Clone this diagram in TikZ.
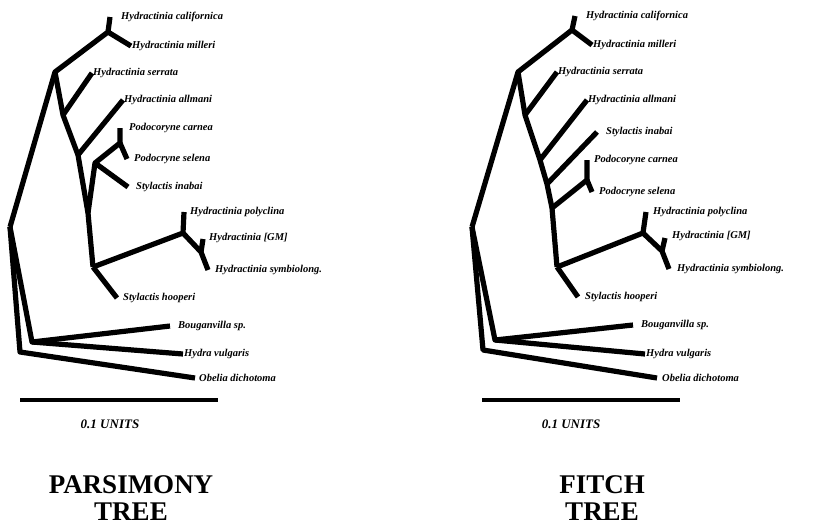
\documentclass[tikz,border=0pt]{standalone}
\usepackage{fontspec}
\setmainfont{Liberation Serif}
\usetikzlibrary{positioning}

\tikzset{
    branch/.style={line width=5.2pt, line join=round},
    taxon/.style={anchor=west, inner sep=1pt, font=\bfseries\itshape\fontsize{10.5}{12}\selectfont},
    units/.style={font=\bfseries\itshape\fontsize{13}{14}\selectfont},
    title/.style={font=\bfseries\fontsize{27}{29}\selectfont, align=center}
}

\begin{document}
\begin{tikzpicture}[x=1pt, y=-1pt]
    \useasboundingbox (0,0) rectangle (821,525);

    % ---------- Parsimony tree ----------
    % Define the branching points
    \coordinate (pA) at (10,227);
    \coordinate (pB) at (55,72);
    \coordinate (pC) at (108,32);
    \coordinate (pD) at (63,115);
    \coordinate (pE) at (78,155);
    \coordinate (pF) at (88,213);
    \coordinate (pH) at (95,163);
    \coordinate (pI) at (120,143);
    \coordinate (pG) at (93,267);
    \coordinate (pJ) at (183,233);
    \coordinate (pM) at (201,252);
    \coordinate (pK) at (32,342);
    \coordinate (pL) at (20,352);

    % Define the tips
    \coordinate (pCal) at (110,17);
    \coordinate (pMil) at (131,46);
    \coordinate (pSer) at (92,73);
    \coordinate (pAll) at (123,100);
    \coordinate (pCar) at (120,128);
    \coordinate (pSel) at (127,159);
    \coordinate (pIna) at (128,187);
    \coordinate (pPol) at (184,212);
    \coordinate (pGM) at (203,239);
    \coordinate (pSym) at (208,270);
    \coordinate (pHoo) at (117,298);
    \coordinate (pBou) at (170,326);
    \coordinate (pHyd) at (183,354);
    \coordinate (pObe) at (195,378);

    % Draw the branches
    \draw[branch] (pA) -- (pB) -- (pC) -- (pCal);
    \draw[branch] (pC) -- (pMil);
    \draw[branch] (pB) -- (pD) -- (pE) -- (pF) -- (pG);
    \draw[branch] (pD) -- (pSer);
    \draw[branch] (pE) -- (pAll);
    \draw[branch] (pF) -- (pH) -- (pI) -- (pCar);
    \draw[branch] (pI) -- (pSel);
    \draw[branch] (pH) -- (pIna);
    \draw[branch] (pG) -- (pJ) -- (pPol);
    \draw[branch] (pJ) -- (pM) -- (pSym);
    \draw[branch] (pM) -- (pGM);
    \draw[branch] (pG) -- (pHoo);
    \draw[branch] (pA) -- (pK) -- (pBou);
    \draw[branch] (pK) -- (pHyd);
    \draw[branch] (pA) -- (pL) -- (pObe);

    % Label the tips
    \node[taxon] (pCalT) at ([xshift=10pt]pCal) {Hydractinia californica};
    \node[taxon] (pMilT) at (pMil) {Hydractinia milleri};
    \node[taxon] (pSerT) at (pSer) {Hydractinia serrata};
    \node[taxon] (pAllT) at (pAll) {Hydractinia allmani};
    \node[taxon] (pCarT) at ([xshift=8pt]pCar) {Podocoryne carnea};
    \node[taxon] (pSelT) at ([xshift=6pt]pSel) {Podocryne selena};
    \node[taxon] (pInaT) at ([xshift=7pt]pIna) {Stylactis inabai};
    \node[taxon] (pPolT) at ([xshift=5pt]pPol) {Hydractinia polyclina};
    \node[taxon] (pGMT) at ([xshift=5pt,yshift=1pt]pGM) {Hydractinia [GM]};
    \node[taxon] (pSymT) at ([xshift=6pt]pSym) {Hydractinia symbiolong.};
    \node[taxon] (pHooT) at ([xshift=5pt]pHoo) {Stylactis hooperi};
    \node[taxon] (pBouT) at ([xshift=7pt]pBou) {Bouganvilla sp.};
    \node[taxon] (pHydT) at (pHyd) {Hydra vulgaris};
    \node[taxon] (pObeT) at ([xshift=3pt]pObe) {Obelia dichotoma};

    % Scale bar and title
    \coordinate (pS1) at (20,400);
    \coordinate (pS2) at (218,400);
    \draw[line width=4.5pt] (pS1) -- (pS2);
    \node[units] (pUnits) at (110,424) {0.1 UNITS};
    \node[title] (pTitle) at (131,498) {PARSIMONY\\[-2pt]TREE};

    % ---------- Fitch tree ----------
    % Define the branching points
    \coordinate (fA) at (472,227);
    \coordinate (fB) at (518,72);
    \coordinate (fC) at (572,30);
    \coordinate (fD) at (525,115);
    \coordinate (fE) at (540,160);
    \coordinate (fF) at (547,184);
    \coordinate (fF2) at (552,208);
    \coordinate (fH) at (587,180);
    \coordinate (fG) at (557,267);
    \coordinate (fJ) at (643,233);
    \coordinate (fM) at (662,251);
    \coordinate (fK) at (495,340);
    \coordinate (fL) at (483,350);

    % Define the tips
    \coordinate (fCal) at (575,16);
    \coordinate (fMil) at (592,45);
    \coordinate (fSer) at (557,72);
    \coordinate (fAll) at (587,100);
    \coordinate (fIna) at (597,132);
    \coordinate (fCar) at (587,160);
    \coordinate (fSel) at (592,192);
    \coordinate (fPol) at (646,212);
    \coordinate (fGM) at (665,238);
    \coordinate (fSym) at (669,269);
    \coordinate (fHoo) at (578,297);
    \coordinate (fBou) at (633,325);
    \coordinate (fHyd) at (645,354);
    \coordinate (fObe) at (657,378);

    % Draw the branches
    \draw[branch] (fA) -- (fB) -- (fC) -- (fCal);
    \draw[branch] (fC) -- (fMil);
    \draw[branch] (fB) -- (fD) -- (fE) -- (fF) -- (fF2) -- (fG);
    \draw[branch] (fD) -- (fSer);
    \draw[branch] (fE) -- (fAll);
    \draw[branch] (fF) -- (fIna);
    \draw[branch] (fF2) -- (fH) -- (fCar);
    \draw[branch] (fH) -- (fSel);
    \draw[branch] (fG) -- (fJ) -- (fPol);
    \draw[branch] (fJ) -- (fM) -- (fSym);
    \draw[branch] (fM) -- (fGM);
    \draw[branch] (fG) -- (fHoo);
    \draw[branch] (fA) -- (fK) -- (fBou);
    \draw[branch] (fK) -- (fHyd);
    \draw[branch] (fA) -- (fL) -- (fObe);

    % Label the tips
    \node[taxon] (fCalT) at ([xshift=10pt]fCal) {Hydractinia californica};
    \node[taxon] (fMilT) at (fMil) {Hydractinia milleri};
    \node[taxon] (fSerT) at (fSer) {Hydractinia serrata};
    \node[taxon] (fAllT) at (fAll) {Hydractinia allmani};
    \node[taxon] (fInaT) at ([xshift=8pt]fIna) {Stylactis inabai};
    \node[taxon] (fCarT) at ([xshift=6pt]fCar) {Podocoryne carnea};
    \node[taxon] (fSelT) at ([xshift=6pt]fSel) {Podocryne selena};
    \node[taxon] (fPolT) at ([xshift=6pt]fPol) {Hydractinia polyclina};
    \node[taxon] (fGMT) at ([xshift=6pt,yshift=2pt]fGM) {Hydractinia [GM]};
    \node[taxon] (fSymT) at ([xshift=7pt]fSym) {Hydractinia symbiolong.};
    \node[taxon] (fHooT) at ([xshift=6pt]fHoo) {Stylactis hooperi};
    \node[taxon] (fBouT) at ([xshift=7pt]fBou) {Bouganvilla sp.};
    \node[taxon] (fHydT) at (fHyd) {Hydra vulgaris};
    \node[taxon] (fObeT) at ([xshift=4pt]fObe) {Obelia dichotoma};

    % Scale bar and title
    \coordinate (fS1) at (482,400);
    \coordinate (fS2) at (680,400);
    \draw[line width=4.5pt] (fS1) -- (fS2);
    \node[units] (fUnits) at (571,424) {0.1 UNITS};
    \node[title] (fTitle) at (602,498) {FITCH\\[-2pt]TREE};

\end{tikzpicture}
\end{document}
